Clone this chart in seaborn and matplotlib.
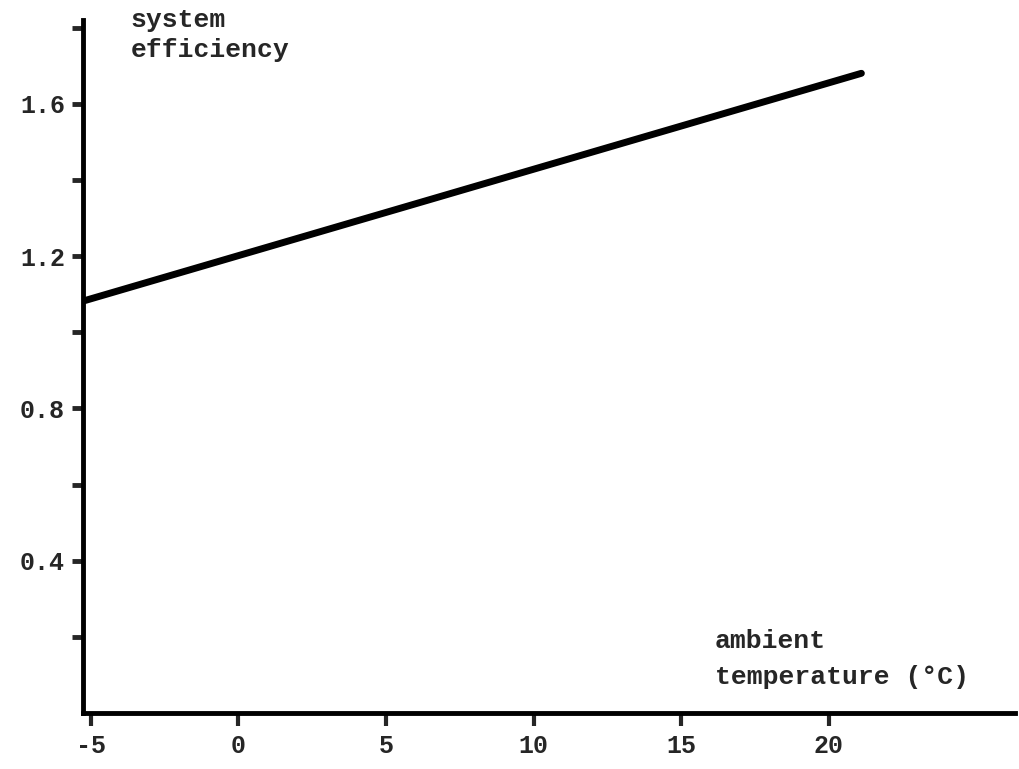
import numpy as np
import pandas as pd
import matplotlib
matplotlib.use("Agg")
import matplotlib.pyplot as plt
import seaborn as sns

# values
temperature = [-5.25, 21.1]
efficiency = [1.082, 1.68]
x_ticks = [-5, 0, 5, 10, 15, 20]
y_ticks = [0.4, 0.8, 1.2, 1.6]
y_minor = [0.2, 0.6, 1.0, 1.4, 1.8]

df = pd.DataFrame({"temperature": temperature, "efficiency": efficiency})

sns.set_style("ticks")
plt.rcParams['font.family'] = ['Liberation Mono', 'DejaVu Sans Mono']

fig = plt.figure(figsize=(10.19, 7.69), dpi=100)
ax = fig.add_axes([0.0815, 0.0728, 0.9145, 0.9012])

sns.lineplot(data=df, x="temperature", y="efficiency", color="black",
             linewidth=5, solid_capstyle="round", ax=ax)

ax.set_xlim(-5.26, 26.3)
ax.set_ylim(0, 1.82)
ax.set_xticks(x_ticks)
ax.set_xticklabels([str(v) for v in x_ticks])
ax.set_yticks(y_ticks)
ax.set_yticklabels([str(v) for v in y_ticks])
ax.set_yticks(y_minor, minor=True)

ax.tick_params(axis="y", which="both", direction="out", length=8, width=3.5,
               labelsize=18, pad=5)
ax.tick_params(axis="x", which="both", direction="out", length=9, width=3,
               labelsize=18, pad=6)
for lab in ax.get_xticklabels() + ax.get_yticklabels():
    lab.set_fontweight("bold")

sns.despine(ax=ax)
for side in ["left", "bottom"]:
    ax.spines[side].set_linewidth(3.5)
    ax.spines[side].set_color("black")

ax.set_xlabel("")
ax.set_ylabel("")

ax.text(0.051, 1.018, "system\nefficiency", transform=ax.transAxes,
        fontsize=19, fontweight="bold", va="top", ha="left",
        linespacing=1.35, clip_on=False)
ax.text(0.678, 0.121, "ambient\ntemperature (°C)", transform=ax.transAxes,
        fontsize=19, fontweight="bold", va="top", ha="left",
        linespacing=1.6)

fig.savefig("out.png", dpi=100)
